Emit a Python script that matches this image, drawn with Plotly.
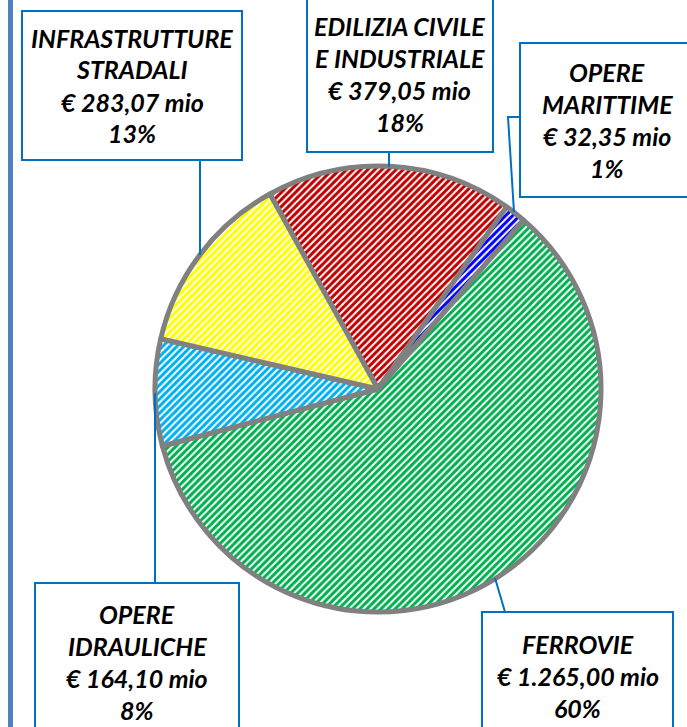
import plotly.graph_objects as go

# ---- data (clockwise order starting from the red slice) ----
categories = ["EDILIZIA CIVILE<br>E INDUSTRIALE", "OPERE<br>MARITTIME", "FERROVIE",
              "OPERE<br>IDRAULICHE", "INFRASTRUTTURE<br>STRADALI"]
values = [379.05, 32.35, 1265.00, 164.10, 283.07]
value_labels = ["€ 379,05 mio", "€ 32,35 mio", "€ 1.265,00 mio", "€ 164,10 mio", "€ 283,07 mio"]
percent_labels = ["18%", "1%", "60%", "8%", "13%"]
colors = ["#C00000", "#0000FF", "#00B050", "#00B0F0", "#FFFF00"]

W, H = 687, 727


def px(x):
    return x / W


def py(y):
    return 1 - y / H


fig = go.Figure()
fig.add_trace(go.Pie(
    labels=[c.replace("<br>", " ") for c in categories],
    values=values,
    sort=False,
    direction="clockwise",
    rotation=-29,
    textinfo="none",
    hoverinfo="label+value+percent",
    marker=dict(
        colors=colors,
        line=dict(color="#808080", width=5),
        pattern=dict(shape="/", fgcolor=colors, bgcolor="white", size=5, solidity=0.6),
    ),
    domain=dict(x=[px(155), px(601)], y=[py(612), py(166)]),
    showlegend=False,
))

# ---- label boxes (pixel layout) ----
boxes = [  # x0, y0, x1, y1
    (307, -4, 493, 152),
    (520, 43, 694, 197),
    (482, 612, 673, 740),
    (35, 583, 239, 740),
    (22, 11, 242, 160),
]
leaders = [
    [(389, 152), (389, 167)],
    [(520, 117), (508, 117), (514, 212)],
    [(505, 612), (495, 578)],
    [(155, 583), (155, 393)],
    [(200, 160), (200, 255)],
]

shapes = []
annotations = []
line_gap = 32
for i, (x0, y0, x1, y1) in enumerate(boxes):
    shapes.append(dict(type="rect", xref="paper", yref="paper",
                       x0=px(x0), x1=px(x1), y0=py(y1), y1=py(y0),
                       line=dict(color="#0070C0", width=2), fillcolor="white", layer="above"))
    pts = leaders[i]
    path = "M " + " L ".join(f"{px(a)},{py(b)}" for a, b in pts)
    shapes.append(dict(type="path", xref="paper", yref="paper", path=path,
                       line=dict(color="#0070C0", width=2), layer="above"))
    lines = categories[i].split("<br>") + [value_labels[i], percent_labels[i]]
    cx = (x0 + x1) / 2
    cy = (y0 + y1) / 2
    n = len(lines)
    for k, t in enumerate(lines):
        yy = cy + (k - (n - 1) / 2) * line_gap
        annotations.append(dict(
            x=px(cx), y=py(yy), xref="paper", yref="paper",
            text=f"<b><i>{t}</i></b>", showarrow=False,
            xanchor="center", yanchor="middle",
            font=dict(family="Lato, Carlito, 'Open Sans', sans-serif", size=25, color="black"),
        ))

# left border line
shapes.append(dict(type="line", xref="paper", yref="paper",
                   x0=px(10.5), x1=px(10.5), y0=0, y1=1,
                   line=dict(color="#4F81BD", width=5), layer="above"))

fig.update_layout(
    width=W, height=H,
    margin=dict(l=0, r=0, t=0, b=0),
    paper_bgcolor="white", plot_bgcolor="white",
    shapes=shapes, annotations=annotations,
)

fig.write_html("out.html", config={"displayModeBar": False},
               post_script="document.body.style.margin='0';document.body.style.overflow='hidden';")
